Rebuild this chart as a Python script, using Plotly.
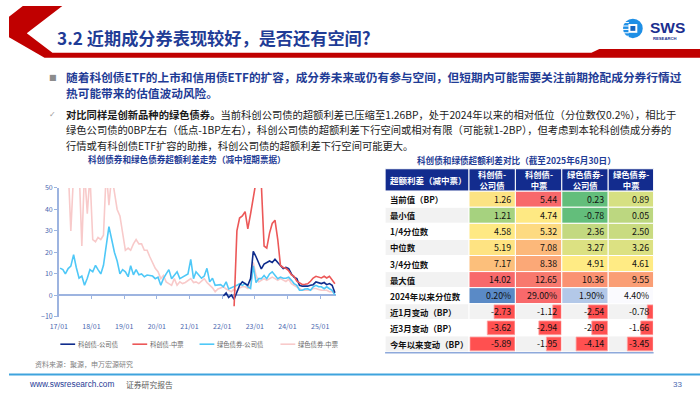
import plotly.graph_objects as go
import pandas as pd

# ---------------- data: line chart ----------------
green_corp_start = "2017-01-01"
green_corp = [
    12.7, 12.0, 10.0, 12.5, 13.6, 19.0, 13.0, 8.0, 9.0, 4.7, 8.0, 12.0,
    11.0, 14.0, 12.0, 10.0, 14.0, 23.0, 32.0, 26.0, 20.0, 16.0, 10.0, 12.0,
    11.0, 8.7, 13.8, 9.6, 12.0, 9.6, 10.0, 8.7, 9.5, 9.3, 9.0, 7.8,
    8.5, 4.7, 7.8, 10.0, 12.0, 7.8, 9.3, 11.0, 7.8, 8.5, 9.3, 10.0,
    16.8, 7.8, 11.0, 9.3, 8.0, 9.0, 12.6, 6.3, 8.0, 4.7, 4.7, 5.0,
    4.0, 6.3, 3.0, 3.5, 4.0, 4.7, 5.5, 4.7, 5.5, 4.0, 3.2, 13.8,
    6.0, 7.8, 7.8, 9.3, 7.8, 10.0, 11.0, 9.3, 7.8, 8.5, 8.0, 8.0,
    8.5, 7.0, 5.5, 4.7, 2.4, 2.4, 3.0, 3.1, 2.4, 4.0, 4.7, 4.0,
    4.0, 3.1, 4.0, 3.1, 2.4, 0.23,
]
green_mtn_start = "2017-04-01"
green_mtn = [
    60, 30, 57, 55, 60, 23, 58, 38, 56,
    26, 25, 27, 26, 28, 58, 42, 56, 47, 40, 37, 28,
    21, 22, 21, 24, 26, 24, 24, 21, 21, 18, 15, 12.6,
    11, 7.8, 9.3, 6.3, 5.5, 4.7, 7.8, 4.7, 6.3, 5.5, 6.0, 7.0,
    7.8, 6.0, 6.3, 5.5, 6.5, 7.8, 6.0, 4.7, 3.5, 1.7, 3.0, 3.5,
    4.0, 3.0, 2.3, 1.7, 3.0, 1.7, 3.5, 4.0, 4.0, 3.2, 4.7, 15.3,
    9.3, 6.3, 7.0, 7.8, 7.0, 7.8, 8.5, 7.8, 7.0, 7.8, 7.0, 6.5,
    7.5, 5.5, 4.7, 4.0, 3.2, 2.4, 2.4, 2.4, 2.4, 3.2, 3.2, 2.8,
    2.4, 2.4, 2.4, 1.7, 1.7, 0.89,
]
kc_corp_start = "2022-01-01"
kc_corp = [
    -0.3, 1.2, -1.0, 0.2, -1.8, 1.7, 4.7, 6.3, 5.5, 4.7, 7.8, 20.5,
    18.0, 15.3, 12.3, 14.6, 15.3, 16.0, 15.3, 16.8, 15.3, 13.8, 12.5, 13.0,
    12.5, 10.0, 8.5, 7.8, 4.7, 4.3, 4.3, 4.3, 4.7, 5.0, 6.3, 5.8,
    5.5, 6.0, 5.0, 5.5, 4.7, 1.26,
]
kc_mtn_start = "2022-05-01"
kc_mtn = [
    -5.0, 30, 36, 37, 39, 31, 38, 47,
    53, 58, 52, 23, 22, 29, 33.5, 35, 26, 14, 13, 12.6,
    11.5, 9.6, 8.9, 6.6, 5.9, 5.1, 5.2, 5.4, 6.6, 8.1, 8.9, 8.5,
    8.1, 8.9, 8.1, 8.9, 7.4, 5.44,
]
series_names = ["科创债-公司债", "科创债-中票", "绿色债券-公司债", "绿色债券-中票"]
year_ticks = ["2017-01-01", "2018-01-01", "2019-01-01", "2020-01-01", "2021-01-01",
              "2022-01-01", "2023-01-01", "2024-01-01", "2025-01-01"]

# ---------------- data: table ----------------
row_labels = ["当前值（BP）", "最小值", "1/4分位数", "中位数", "3/4分位数", "最大值",
              "2024年以来分位数", "近1月变动（BP）", "近3月变动（BP）", "今年以来变动（BP）"]
table_corner = "超额利差（减中票）"
kc_corp_stats = [1.26, 1.21, 4.58, 5.19, 7.17, 14.02]
kc_mtn_stats = [5.44, 4.74, 5.32, 7.08, 8.38, 12.65]
green_corp_stats = [0.23, -0.78, 2.36, 3.27, 4.91, 10.36]
green_mtn_stats = [0.89, 0.05, 2.50, 3.26, 4.61, 9.55]
pct_since_2024 = [0.20, 29.00, 1.90, 4.40]
chg_1m = [-2.73, -1.12, -2.54, -0.78]
chg_3m = [-3.62, -2.94, -2.09, -1.66]
chg_ytd = [-5.89, -1.95, -4.14, -3.45]

# ---------------- styles ----------------
W, H = 700, 394
def PX(x): return x / W
def PY(y): return 1 - y / H

FONT = "Noto Sans CJK SC, Noto Sans, sans-serif"
BLUE_T = "#1F3C96"
RED = "#C00000"
AX = "#9DB4E0"
AXT = "#4A67B0"
line_colors = {"科创债-公司债": "#0F2C8C", "科创债-中票": "#EC5858",
               "绿色债券-公司债": "#4FC8F7", "绿色债券-中票": "#F8CACA"}

heat_colors = [
    ["#FCE383", "#F8696B", "#63BE7B", "#D6E082"],
    ["#A6D27F", "#FEE983", "#63BE7B", "#BCD780"],
    ["#FEE983", "#FDDA81", "#C3D980", "#C9DB80"],
    ["#FEE382", "#FCB87A", "#DCE182", "#DCE182"],
    ["#FCBF7B", "#FBA877", "#FFEB84", "#FFEB84"],
    ["#F8696B", "#F8796E", "#FA9272", "#FA9E75"],
    ["#5A8AC6", "#F8696B", "#B3C8E8", "#FAFAFE"],
]
GRAY = "#F2F2F2"
HDR_BLUE = "#132C8E"

def monthly(start, vals):
    return pd.date_range(start, periods=len(vals), freq="MS") + pd.Timedelta(days=14)

fig = go.Figure()

# ---------------- line chart ----------------
xd = [PX(50.5), PX(331.6)]
yd = [PY(319), PY(186.7)]
ymin, ymax = -10, 50

draw_order = [("绿色债券-中票", green_mtn_start, green_mtn),
              ("绿色债券-公司债", green_corp_start, green_corp),
              ("科创债-公司债", kc_corp_start, kc_corp),
              ("科创债-中票", kc_mtn_start, kc_mtn)]
for name, start, vals in draw_order:
    fig.add_trace(go.Scatter(x=monthly(start, vals), y=vals, name=name, mode="lines",
                             line=dict(color=line_colors[name], width=1.6),
                             showlegend=False, hoverinfo="skip"))

# invisible trace carrying tick marks on the zero line
fig.add_trace(go.Scatter(x=year_ticks, y=[0] * len(year_ticks), xaxis="x6", yaxis="y",
                         mode="markers", marker=dict(opacity=0), showlegend=False,
                         hoverinfo="skip"))

shapes = []
ann = []

def T(x, y, text, size, color, xanchor="left", family=FONT, bold=False):
    ann.append(dict(x=PX(x), y=PY(y), xref="paper", yref="paper",
                    text=("<b>" + text + "</b>") if bold else text,
                    showarrow=False, xanchor=xanchor, yanchor="middle",
                    font=dict(family=family, size=size, color=color)))

def rect(x0, x1, y0, y1, color, border="white", bw=1, layer="below"):
    shapes.append(dict(type="rect", xref="paper", yref="paper", layer=layer,
                       x0=PX(x0), x1=PX(x1), y0=PY(y1), y1=PY(y0),
                       fillcolor=color, line=dict(color=border, width=bw)))

def hline(x0, x1, y, color, w):
    shapes.append(dict(type="line", xref="paper", yref="paper", x0=PX(x0), x1=PX(x1),
                       y0=PY(y), y1=PY(y), line=dict(color=color, width=w)))

# custom legend
leg_x = [52, 125, 193, 275]
for name, lx in zip(series_names, leg_x):
    hline(lx, lx + 15, 347, line_colors[name], 1.6)
    T(lx + 16, 347, name, 6.3, "#666666")

# ---------------- table ----------------
n = len(row_labels)
col_stats = [kc_corp_stats, kc_mtn_stats, green_corp_stats, green_mtn_stats]
T_TOP, HDR_H, ROW_H = 167, 23, 16.5
TX = [381, 466, 513, 560, 607, 653]
R0 = T_TOP + HDR_H

# header
rect(TX[0], TX[1], T_TOP, R0, HDR_BLUE)
T(TX[0] + 3, T_TOP + HDR_H / 2, "<b>" + table_corner + "</b>", 8.5, "white")
for j, h in enumerate(series_names):
    a, b = h.split("-")
    rect(TX[j + 1], TX[j + 2], T_TOP, R0, HDR_BLUE)
    T((TX[j + 1] + TX[j + 2]) / 2, T_TOP + HDR_H / 2, "<b>" + a + "-<br>" + b + "</b>", 8.3,
      "white", xanchor="center")

# body
for i, lab in enumerate(row_labels):
    y0, y1 = R0 + ROW_H * i, R0 + ROW_H * (i + 1)
    yc = (y0 + y1) / 2
    stripe = "white" if i % 2 == 0 else GRAY
    rect(TX[0], TX[1], y0, y1, stripe)
    T(TX[0] + 3, yc, "<b>" + lab + "</b>", 8.4, "#111111")
    for j in range(4):
        if i < 6:
            txt = f"{col_stats[j][i]:.2f}"
        elif i == 6:
            txt = f"{pct_since_2024[j]:.2f}%"
        else:
            txt = f"{[chg_1m, chg_3m, chg_ytd][i - 7][j]:.2f}"
        fill = heat_colors[i][j] if i < 7 else stripe
        rect(TX[j + 1], TX[j + 2], y0, y1, fill)
        T(TX[j + 2] - 2.5, yc, txt, 8.8, "#111111", xanchor="right")

T_BOT = R0 + ROW_H * n
hline(TX[0], TX[-1], T_BOT + 0.8, "#8EA9DB", 1.5)

# data bars for change rows (global scale), drawn on their own axes
chg_rows = row_labels[7:]
bar_min = min(chg_1m + chg_3m + chg_ytd)
for j in range(4):
    ax = j + 2
    fig.add_trace(go.Bar(x=[chg_1m[j], chg_3m[j], chg_ytd[j]], y=chg_rows, orientation="h",
                         xaxis=f"x{ax}", yaxis="y2", showlegend=False, hoverinfo="skip",
                         marker=dict(color="#FF5050", line=dict(color="#FFA3A3", width=0.8)),
                         width=0.86))
    fig.layout[f"xaxis{ax}"] = dict(domain=[PX(TX[j + 1] + 0.5), PX(TX[j + 2] - 0.5)],
                                    range=[bar_min * 1.01, 0], visible=False, anchor="y2",
                                    fixedrange=True)

# ---------------- header decoration ----------------
def path(pts):
    return "M " + " L ".join(f"{PX(x):.5f},{PY(y):.5f}" for x, y in pts) + " Z"
hdr = [(14, 0), (54, 0), (18, 28), (44, 48), (590, 48), (598, 44), (700, 44), (700, 53),
       (36, 53), (0, 32), (0, 11)]
shapes.append(dict(type="path", xref="paper", yref="paper", path=path(hdr),
                   fillcolor=RED, line=dict(width=0)))
# logo
shapes.append(dict(type="circle", xref="paper", yref="paper", x0=PX(622), x1=PX(642),
                   y0=PY(33), y1=PY(13), fillcolor="#1E8FE6", line=dict(width=0)))
for yy in (17, 20.5, 24, 27.5, 31):
    hline(621, 628, yy, "white", 1)
rect(627.5, 636.5, 18.5, 27.5, "white", bw=0, layer="above")
rect(629.5, 634.5, 20.5, 25.5, "#1565C0", bw=0, layer="above")
# footer line
hline(0, 700, 378, "#3FA3DD", 2)

# ---------------- texts ----------------
T(47, 32, "3.2 近期成分券表现较好，是否还有空间?", 17.2, BLUE_T, bold=True)
T(647, 22, "SWS", 15.5, "#1B2F8F", family="Liberation Sans, Arial", bold=True)
T(650, 33, "RESEARCH", 4.2, "#1B2F8F", family="Liberation Sans, Arial", bold=True)
T(39, 73, "■", 8, "#8C8C8C", family="DejaVu Sans")
T(56, 72, "随着科创债ETF的上市和信用债ETF的扩容，成分券未来或仍有参与空间，但短期内可能需要关注前期抢配成分券行情过", 11.7, BLUE_T, bold=True)
T(56, 89, "热可能带来的估值波动风险。", 11.7, BLUE_T, bold=True)
T(39, 111, "✓", 8, "#9A9A9A", family="DejaVu Sans")
T(56, 111, "<b>对比同样是创新品种的绿色债券。</b>当前科创公司债的超额利差已压缩至1.26BP，处于2024年以来的相对低位（分位数仅0.2%），相比于", 10.3, "#1A1A1A")
T(56, 127, "绿色公司债的0BP左右（低点-1BP左右），科创公司债的超额利差下行空间或相对有限（可能就1-2BP），但考虑到本轮科创债成分券的", 10.3, "#1A1A1A")
T(56, 143, "行情或有科创债ETF扩容的助推，科创公司债的超额利差下行空间可能更大。", 10.3, "#1A1A1A")
T(180, 157, "科创债券和绿色债券超额利差走势（减中短期票据）", 8.6, BLUE_T, xanchor="center", bold=True)
T(514, 158, "科创债和绿债超额利差对比（截至2025年6月30日）", 8.6, BLUE_T, xanchor="center", bold=True)
T(24, 367, "资料来源：聚源，申万宏源研究", 7, "#7F7F7F")
T(18, 388, "www.swsresearch.com", 8.3, BLUE_T, family="Liberation Sans, Arial")
T(117, 388, "证券研究报告", 7.8, "#595959")
T(684, 388, "33", 8, AXT, xanchor="right", family="Liberation Sans, Arial")

zero_pos = yd[0] + (yd[1] - yd[0]) * (0 - ymin) / (ymax - ymin)

fig.update_layout(
    width=W, height=H, margin=dict(l=0, r=0, t=0, b=0),
    paper_bgcolor="white", plot_bgcolor="rgba(0,0,0,0)",
    font=dict(family=FONT),
    showlegend=False,
    xaxis=dict(domain=xd, type="date", range=["2017-01-01", "2025-07-01"],
               tickvals=year_ticks, tickformat="%y/%m", showline=False, showgrid=False,
               zeroline=False, ticks="", tickfont=dict(size=7, color=AXT), anchor="y",
               ticklabelstandoff=4, fixedrange=True),
    yaxis=dict(domain=yd, range=[ymin, ymax], dtick=10, showline=True, linecolor=AX, linewidth=1.5,
               ticks="outside", ticklen=3, tickcolor=AX, showgrid=False, zeroline=True,
               zerolinecolor=AX, zerolinewidth=1.5, tickfont=dict(size=7, color=AXT),
               anchor="x", fixedrange=True),
    xaxis6=dict(overlaying="x", anchor="free", position=zero_pos, type="date",
                range=["2017-01-01", "2025-07-01"], tickvals=year_ticks, showticklabels=False,
                ticks="outside", ticklen=3, tickcolor=AX, showline=False, showgrid=False,
                zeroline=False, fixedrange=True),
    yaxis2=dict(domain=[PY(T_BOT), PY(R0 + ROW_H * 7)], type="category",
                categoryorder="array", categoryarray=chg_rows, autorange="reversed",
                visible=False, anchor="x2", fixedrange=True),
    bargap=0.1,
    shapes=shapes, annotations=ann,
)

fig.write_html("out.html", config={"displayModeBar": False},
               post_script="document.body.style.margin='0px';document.body.style.overflow='hidden';")
